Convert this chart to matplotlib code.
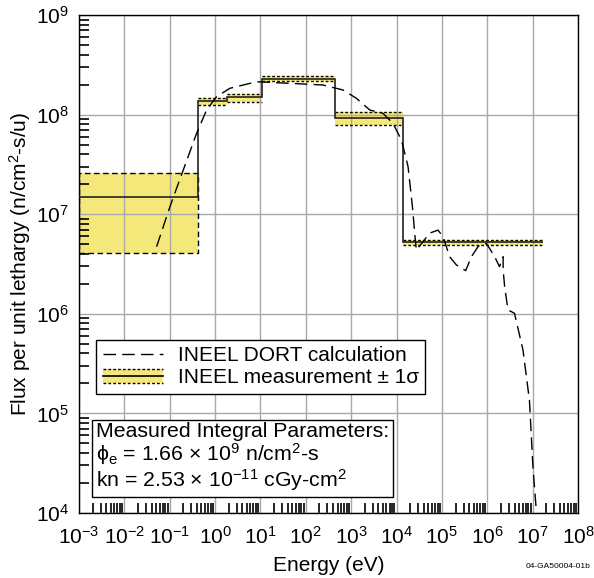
import numpy as np
import matplotlib
matplotlib.use("Agg")
import matplotlib.pyplot as plt
from matplotlib.patches import Rectangle
from matplotlib.lines import Line2D
from matplotlib.legend_handler import HandlerBase
from matplotlib.ticker import NullFormatter

plt.rcParams['font.family'] = ['Liberation Sans', 'DejaVu Sans']
plt.rcParams['mathtext.fontset'] = 'custom'
plt.rcParams['mathtext.rm'] = 'Liberation Sans'
plt.rcParams['mathtext.it'] = 'Liberation Sans:italic'
plt.rcParams['mathtext.sf'] = 'Liberation Sans'
plt.rcParams['mathtext.fallback'] = 'stixsans'

# Measurement bins
bin_edges = [1e-3, 0.414, 1.8, 10.6, 440, 1.42e4, 1.72e7]
meas_value = [1.5e7, 1.37e8, 1.51e8, 2.28e8, 9.25e7, 5.2e6]
meas_upper = [2.6e7, 1.48e8, 1.61e8, 2.43e8, 1.05e8, 5.5e6]
meas_lower = [4.1e6, 1.26e8, 1.35e8, 2.16e8, 7.8e7, 4.9e6]

# DORT calculation (log10 E, log10 flux)
dort_logE = [-1.289, -0.996, -0.408, -0.187, 0.033, 0.326, 0.914, 1.648, 2.38, 2.82,
             3.117, 3.41, 3.70, 3.92, 4.108, 4.254, 4.35, 4.40, 4.437, 4.584, 4.73,
             4.915, 5.025, 5.17, 5.32, 5.524, 5.65, 5.795, 5.906, 5.98, 6.05, 6.163,
             6.27, 6.35, 6.35, 6.383, 6.456, 6.60, 6.787, 6.93, 7.006, 7.08]
dort_logF = [6.674, 7.075, 7.812, 8.046, 8.18, 8.264, 8.33, 8.314, 8.297, 8.247,
             8.163, 8.046, 8.013, 7.913, 7.745, 7.477, 7.075, 6.81, 6.64, 6.724, 6.81,
             6.84, 6.774, 6.573, 6.49, 6.433, 6.573, 6.674, 6.69, 6.707, 6.657, 6.573,
             6.473, 6.573, 6.44, 6.272, 6.04, 6.005, 5.637, 5.13, 4.465, 4.03]

xtick_exps = list(range(-3, 9))
ytick_exps = list(range(4, 10))

YELLOW = '#F4E87A'

fig = plt.figure(figsize=(5.94, 5.78), dpi=100)
ax = fig.add_axes([79/594, (578-513)/578, 499/594, 498/578])
ax.set_xscale('log')
ax.set_yscale('log')
ax.set_xlim(1e-3, 1e8)
ax.set_ylim(1e4, 1e9)

ax.set_xticks([10.0**e for e in xtick_exps])
ax.set_xticklabels([r'10$^{%d}$' % e for e in xtick_exps])
ax.set_yticks([10.0**e for e in ytick_exps])
ax.set_yticklabels([r'10$^{%d}$' % e for e in ytick_exps])
xminor = [m * 10.0**e for e in xtick_exps[:-1] for m in range(2, 10)]
yminor = [m * 10.0**e for e in ytick_exps[:-1] for m in range(2, 10)]
ax.set_xticks(xminor, minor=True)
ax.set_yticks(yminor, minor=True)
ax.xaxis.set_minor_formatter(NullFormatter())
ax.yaxis.set_minor_formatter(NullFormatter())
ax.tick_params(which='both', direction='in', labelsize=15, top=False, right=False)
ax.tick_params(axis='both', which='major', length=0)
ax.tick_params(axis='both', which='minor', length=7, width=1.2, color='black')
ax.tick_params(axis='x', pad=9)
ax.tick_params(axis='y', pad=7)
ax.grid(True, which='major', color='#A8A8A8', linewidth=1.0)
for s in ax.spines.values():
    s.set_linewidth(1.0)

# measurement bands
for i in range(len(meas_value)):
    lo, hi = bin_edges[i], bin_edges[i + 1]
    if i == 0:
        ax.add_patch(Rectangle((lo, meas_lower[i]), hi - lo, meas_upper[i] - meas_lower[i],
                               facecolor=YELLOW, edgecolor='none', zorder=1.2))
        ax.add_patch(Rectangle((lo, meas_lower[i]), hi - lo, meas_upper[i] - meas_lower[i],
                               facecolor='none', edgecolor='black', linestyle=(0, (4, 2.5)),
                               linewidth=1.0, zorder=3))
    else:
        ax.fill_between([lo, hi], meas_lower[i], meas_upper[i], color=YELLOW, linewidth=0, zorder=1.2)
        ax.hlines([meas_lower[i], meas_upper[i]], lo, hi, colors='black',
                  linestyles=[(0, (2, 1.5))], linewidth=1.0, zorder=3)
ax.stairs(meas_value, bin_edges, baseline=None, color='#222222', linewidth=1.2, zorder=4)

# DORT
ax.plot(10.0**np.array(dort_logE), 10.0**np.array(dort_logF), color='black',
        linestyle=(0, (9, 4.5)), linewidth=1.0, zorder=5)


class BandHandler(HandlerBase):
    def create_artists(self, legend, orig_handle, xdescent, ydescent, width, height, fontsize, trans):
        h = height * 1.0
        y0 = -ydescent + (height - h) / 2
        r = Rectangle((-xdescent, y0), width, h, facecolor=YELLOW, edgecolor='none', transform=trans)
        l1 = Line2D([-xdescent, -xdescent + width], [y0 + h, y0 + h], color='black', lw=1.0,
                    linestyle=(0, (2, 1.5)), transform=trans)
        l2 = Line2D([-xdescent, -xdescent + width], [y0 + h / 2, y0 + h / 2], color='black', lw=1.2,
                    transform=trans)
        l3 = Line2D([-xdescent, -xdescent + width], [y0, y0], color='black', lw=1.0,
                    linestyle=(0, (2, 1.5)), transform=trans)
        return [r, l1, l2, l3]


class BandKey:
    pass


dort_handle = Line2D([], [], color='black', linestyle=(0, (9, 4.5)), linewidth=1.0)
leg = ax.legend([dort_handle, BandKey()],
                ['INEEL DORT calculation', 'INEEL measurement \u00b1 1\u03c3'],
                handler_map={BandKey: BandHandler()},
                loc='lower left', bbox_to_anchor=(0.034, 0.239), borderaxespad=0,
                fontsize=15, frameon=True, fancybox=False, framealpha=1,
                edgecolor='black', handlelength=2.9, handletextpad=0.7,
                borderpad=0.32, labelspacing=0.15)
leg.get_frame().set_linewidth(1.0)
leg.set_zorder(10)

param_text = ('Measured Integral Parameters:\n'
              r'$\mathrm{\phi}_{\rm e}$ = 1.66 $\times$ 10$^9$ n/cm$^2$-s' '\n'
              r'kn = 2.53 $\times$ 10$^{-11}$ cGy-cm$^2$')
ax.text(0.034, 0.04, param_text, transform=ax.transAxes, fontsize=15.3,
        ha='left', va='bottom', linespacing=1.0, zorder=10,
        bbox=dict(boxstyle='square,pad=0.2', facecolor='white', edgecolor='black', linewidth=1.0))

ax.set_xlabel('Energy (eV)', fontsize=15, labelpad=6)
ax.set_ylabel('Flux per unit lethargy (n/cm$^2$-s/u)', fontsize=15, labelpad=2)

fig.text(590/594, 1 - 567/578, '04-GA50004-01b', fontsize=6, ha='right', va='center')

fig.savefig('out.png', dpi=100)
